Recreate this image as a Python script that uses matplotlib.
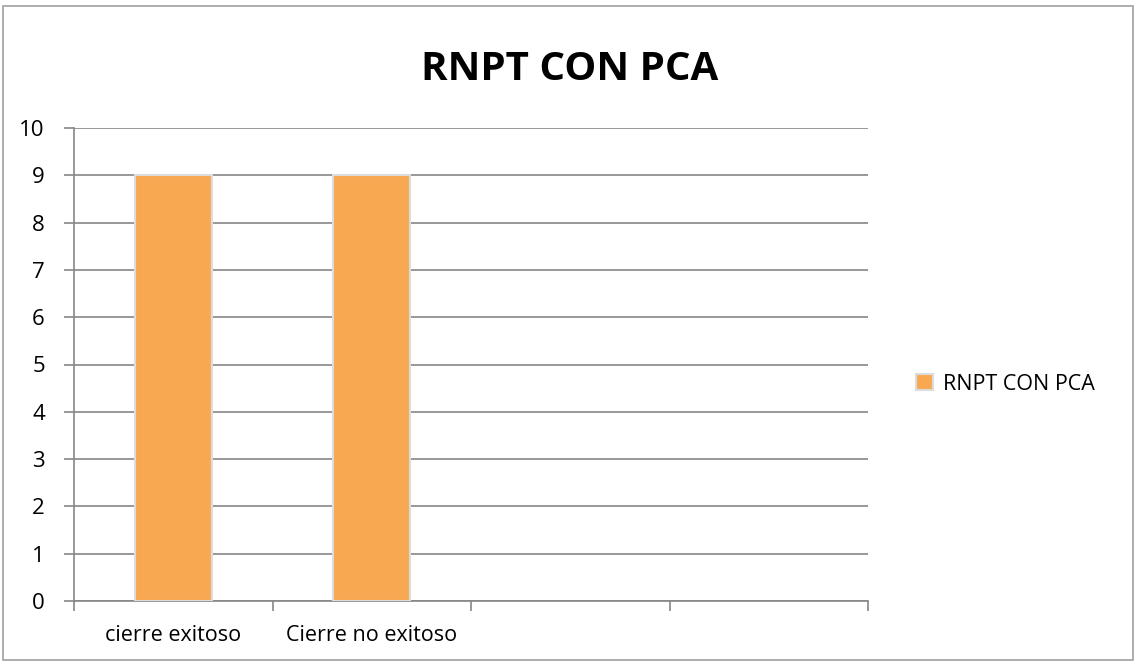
import matplotlib
matplotlib.use("Agg")
import matplotlib.pyplot as plt
from matplotlib.patches import Rectangle

categories = ["cierre exitoso", "Cierre no exitoso", "", ""]
values = [9, 9, 0, 0]
series_name = "RNPT CON PCA"
title = "RNPT CON PCA"
yticks = list(range(0, 11))

plt.rcParams['font.family'] = ['Open Sans', 'DejaVu Sans']

fig = plt.figure(figsize=(11.37, 6.66), dpi=100)
# outer border
fig.patches.append(Rectangle((3/1137, 6/666), 1130/1137, 654/666, transform=fig.transFigure,
                             fill=False, edgecolor='#a0a0a0', linewidth=1.2))

ax = fig.add_axes([74/1137, 1-601/666, (868-74)/1137, (601-128)/666])
x = list(range(len(categories)))
ax.bar(x[:2], values[:2], width=0.39, color='#F9A852', edgecolor='#dcdcdc', linewidth=1.5,
       label=series_name, zorder=3)

ax.set_xlim(-0.5, len(categories) - 0.5)
ax.set_ylim(0, 10)
ax.set_yticks(yticks)
ax.set_yticklabels([str(t) for t in yticks], fontsize=16)
ax.set_xticks([i - 0.5 for i in range(len(categories) + 1)], minor=False)
ax.set_xticklabels([])
ax.set_xticks(x, minor=True)
ax.set_xticklabels(categories, minor=True, fontsize=15.5)
ax.tick_params(axis='x', which='minor', length=0, pad=17)
ax.tick_params(axis='x', which='major', length=7, color='#868686', width=1.2)
ax.tick_params(axis='y', length=7, color='#868686', width=1.2, pad=14)

ax.grid(axis='y', color='#868686', linewidth=1.2, zorder=0)
for s in ['top', 'right']:
    ax.spines[s].set_visible(False)
for s in ['left', 'bottom']:
    ax.spines[s].set_color('#868686')
    ax.spines[s].set_linewidth(1.2)

fig.text(570/1137, 1-70/666, title, ha='center', va='center', fontsize=29, fontweight='bold')

leg = fig.legend(loc='center left', bbox_to_anchor=(897/1137, 1-384/666), frameon=False,
                 fontsize=15.5, handlelength=0.75, handleheight=0.75, handletextpad=0.5)

fig.savefig("out.png", dpi=100)
